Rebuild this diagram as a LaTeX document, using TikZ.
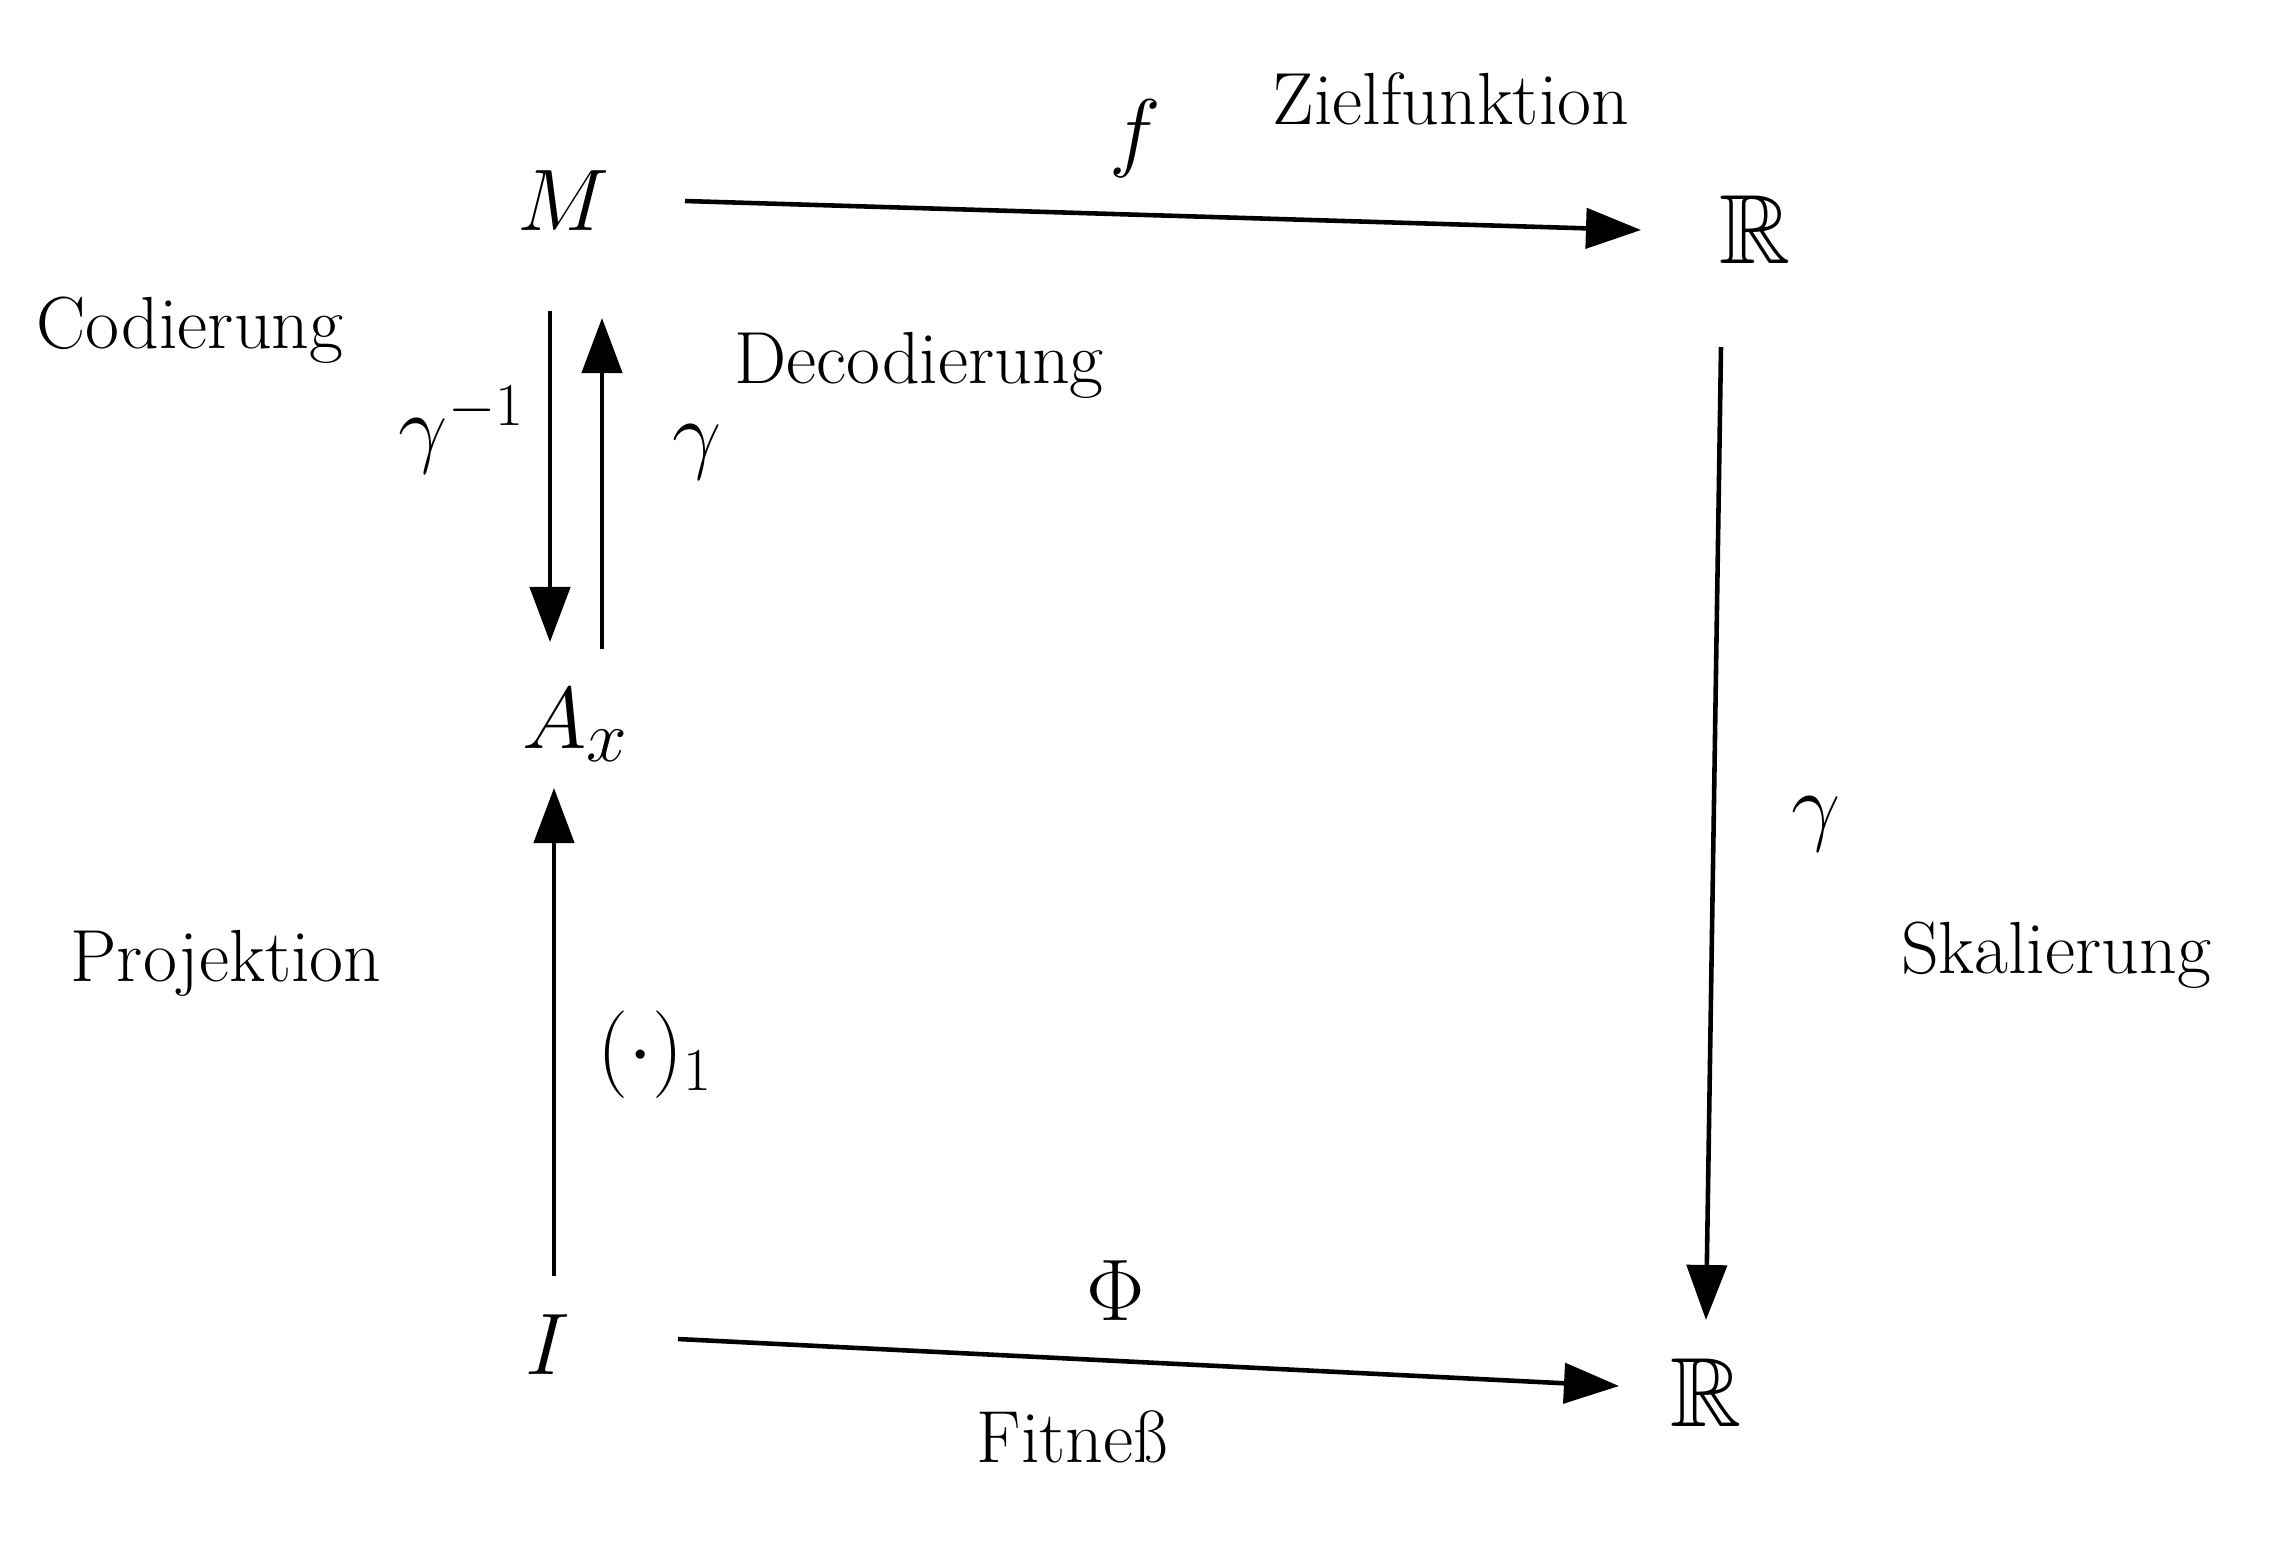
\documentclass[tikz,border=0pt]{standalone}
\usepackage{amssymb}
\usetikzlibrary{arrows.meta,calc}
\begin{document}
\begin{tikzpicture}[x=0.01cm,y=-0.01cm,
  obj/.style={font=\fontsize{28}{32}\selectfont, inner sep=0pt},
  lbl/.style={font=\fontsize{21}{25}\selectfont, inner sep=0pt},
  mlbl/.style={font=\fontsize{26}{30}\selectfont, inner sep=0pt},
  arr/.style={line width=1.3pt, -{Triangle[length=0.55cm,width=0.4cm]}}]
\useasboundingbox (0,0) rectangle (2287,1544);
% objects
\node[obj] (M)  at (564,201)  {$M$};
\node[obj] (R1) at (1755,230) {$\mathbb{R}$};
\node[obj] (A)  at (576,725)  {$A_x$};
\node[obj] (I)  at (548,1345) {$I$};
\node[obj] (R2) at (1706,1393) {$\mathbb{R}$};
% arrows
\draw[arr] ($(M)+(121,0)$) -- ($(R1)+(-114,0)$);
\draw[arr] ($(M)+(-14,110)$) -- ($(A)+(-26,-83)$);
\draw[arr] ($(A)+(26,-76)$) -- ($(M)+(38,117)$);
\draw[arr] ($(I)+(6,-69)$) -- ($(A)+(-22,63)$);
\draw[arr] ($(R1)+(-34,117)$) -- ($(R2)+(0,-73)$);
\draw[arr] ($(I)+(130,-6)$) -- ($(R2)+(-87,-7)$);
% arrow labels
\node[mlbl] (lf)   at (1135,139) {$f$};
\node[mlbl] (lgi)  at (462,430)  {$\gamma^{-1}$};
\node[mlbl] (lg)   at (697,452)  {$\gamma$};
\node[mlbl] (lgr)  at (1816,824) {$\gamma$};
\node[mlbl] (lp)   at (655,1055) {$(\cdot)_1$};
\node[mlbl] (lphi) at (1116,1291) {$\Phi$};
% word labels
\node[lbl] (tz) at (1451,99)  {Zielfunktion};
\node[lbl] (tc) at (190,330)  {Codierung};
\node[lbl] (td) at (919,365)  {Decodierung};
\node[lbl] (ts) at (2056,955) {Skalierung};
\node[lbl] (tp) at (226,963)  {Projektion};
\node[lbl] (tf) at (1072,1437) {Fitneß};
\end{tikzpicture}
\end{document}
